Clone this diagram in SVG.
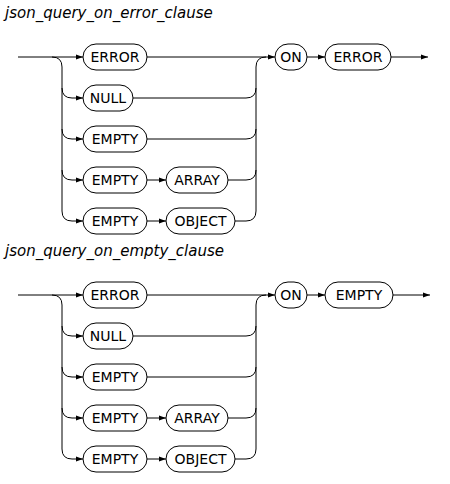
<svg xmlns="http://www.w3.org/2000/svg" width="450" height="484" viewBox="0 0 450 484">
<style>
.t{font-family:"DejaVu Sans",sans-serif;font-size:14px;fill:#000}
.title{font-family:"DejaVu Sans",sans-serif;font-size:15px;font-style:italic;fill:#000}
.box{fill:#fff;stroke:#000;stroke-width:1}
.ln{fill:none;stroke:#000;stroke-width:1}
.arr{fill:none;stroke:#000;stroke-width:1;marker-end:url(#ah)}
</style>
<defs>
<marker id="ah" markerWidth="7" markerHeight="6" refX="7" refY="3" orient="auto" markerUnits="userSpaceOnUse">
<path d="M0,0.5 L7,3 L0,5.5 z" fill="#000"/>
</marker>
</defs>
<rect width="450" height="484" fill="#fff"/>

<!-- Diagram 1 -->
<g id="d1">
<text class="title" x="5" y="18">json_query_on_error_clause</text>
<g id="d1-connectors">
<path class="arr" d="M18,57 H83"/>
<path class="ln" d="M52,57 Q62,57 62,67 V211"/>
<path class="arr" d="M62,88 Q62,98 72,98 H83"/>
<path class="arr" d="M62,129 Q62,139 72,139 H83"/>
<path class="arr" d="M62,170 Q62,180 72,180 H83"/>
<path class="arr" d="M62,211 Q62,221 72,221 H83"/>
<path class="arr" d="M147,180 H166"/>
<path class="arr" d="M147,221 H166"/>
<path class="arr" d="M147,57 H275"/>
<path class="ln" d="M133,98 H246 Q256,98 256,88"/>
<path class="ln" d="M147,139 H246 Q256,139 256,129"/>
<path class="ln" d="M228,180 H246 Q256,180 256,170"/>
<path class="ln" d="M235,221 H246 Q256,221 256,211 V67 Q256,57 266,57"/>
<path class="arr" d="M307,57 H325"/>
<path class="arr" d="M391,57 H428"/>
</g>
<g id="d1-error"><rect class="box" x="83" y="44" width="64" height="26" rx="13"/><text class="t" x="115" y="62" text-anchor="middle">ERROR</text></g>
<g id="d1-null"><rect class="box" x="83" y="85" width="50" height="26" rx="13"/><text class="t" x="108" y="103" text-anchor="middle">NULL</text></g>
<g id="d1-empty"><rect class="box" x="83" y="126" width="64" height="26" rx="13"/><text class="t" x="115" y="144" text-anchor="middle">EMPTY</text></g>
<g id="d1-empty2"><rect class="box" x="83" y="167" width="64" height="26" rx="13"/><text class="t" x="115" y="185" text-anchor="middle">EMPTY</text></g>
<g id="d1-array"><rect class="box" x="166" y="167" width="62" height="26" rx="13"/><text class="t" x="197" y="185" text-anchor="middle">ARRAY</text></g>
<g id="d1-empty3"><rect class="box" x="83" y="208" width="64" height="26" rx="13"/><text class="t" x="115" y="226" text-anchor="middle">EMPTY</text></g>
<g id="d1-object"><rect class="box" x="166" y="208" width="69" height="26" rx="13"/><text class="t" x="200.5" y="226" text-anchor="middle">OBJECT</text></g>
<g id="d1-on"><rect class="box" x="275" y="44" width="32" height="26" rx="13"/><text class="t" x="291" y="62" text-anchor="middle">ON</text></g>
<g id="d1-error2"><rect class="box" x="325" y="44" width="66" height="26" rx="13"/><text class="t" x="358" y="62" text-anchor="middle">ERROR</text></g>
</g>

<!-- Diagram 2 -->
<g id="d2">
<text class="title" x="5" y="256">json_query_on_empty_clause</text>
<g id="d2-connectors">
<path class="arr" d="M18,295 H83"/>
<path class="ln" d="M52,295 Q62,295 62,305 V449"/>
<path class="arr" d="M62,326 Q62,336 72,336 H83"/>
<path class="arr" d="M62,367 Q62,377 72,377 H83"/>
<path class="arr" d="M62,408 Q62,418 72,418 H83"/>
<path class="arr" d="M62,449 Q62,459 72,459 H83"/>
<path class="arr" d="M147,418 H166"/>
<path class="arr" d="M147,459 H166"/>
<path class="arr" d="M147,295 H275"/>
<path class="ln" d="M133,336 H246 Q256,336 256,326"/>
<path class="ln" d="M147,377 H246 Q256,377 256,367"/>
<path class="ln" d="M228,418 H246 Q256,418 256,408"/>
<path class="ln" d="M235,459 H246 Q256,459 256,449 V305 Q256,295 266,295"/>
<path class="arr" d="M307,295 H325"/>
<path class="arr" d="M393,295 H430"/>
</g>
<g id="d2-error"><rect class="box" x="83" y="282" width="64" height="26" rx="13"/><text class="t" x="115" y="300" text-anchor="middle">ERROR</text></g>
<g id="d2-null"><rect class="box" x="83" y="323" width="50" height="26" rx="13"/><text class="t" x="108" y="341" text-anchor="middle">NULL</text></g>
<g id="d2-empty"><rect class="box" x="83" y="364" width="64" height="26" rx="13"/><text class="t" x="115" y="382" text-anchor="middle">EMPTY</text></g>
<g id="d2-empty2"><rect class="box" x="83" y="405" width="64" height="26" rx="13"/><text class="t" x="115" y="423" text-anchor="middle">EMPTY</text></g>
<g id="d2-array"><rect class="box" x="166" y="405" width="62" height="26" rx="13"/><text class="t" x="197" y="423" text-anchor="middle">ARRAY</text></g>
<g id="d2-empty3"><rect class="box" x="83" y="446" width="64" height="26" rx="13"/><text class="t" x="115" y="464" text-anchor="middle">EMPTY</text></g>
<g id="d2-object"><rect class="box" x="166" y="446" width="69" height="26" rx="13"/><text class="t" x="200.5" y="464" text-anchor="middle">OBJECT</text></g>
<g id="d2-on"><rect class="box" x="275" y="282" width="32" height="26" rx="13"/><text class="t" x="291" y="300" text-anchor="middle">ON</text></g>
<g id="d2-empty4"><rect class="box" x="325" y="282" width="68" height="26" rx="13"/><text class="t" x="359" y="300" text-anchor="middle">EMPTY</text></g>
</g>
</svg>
